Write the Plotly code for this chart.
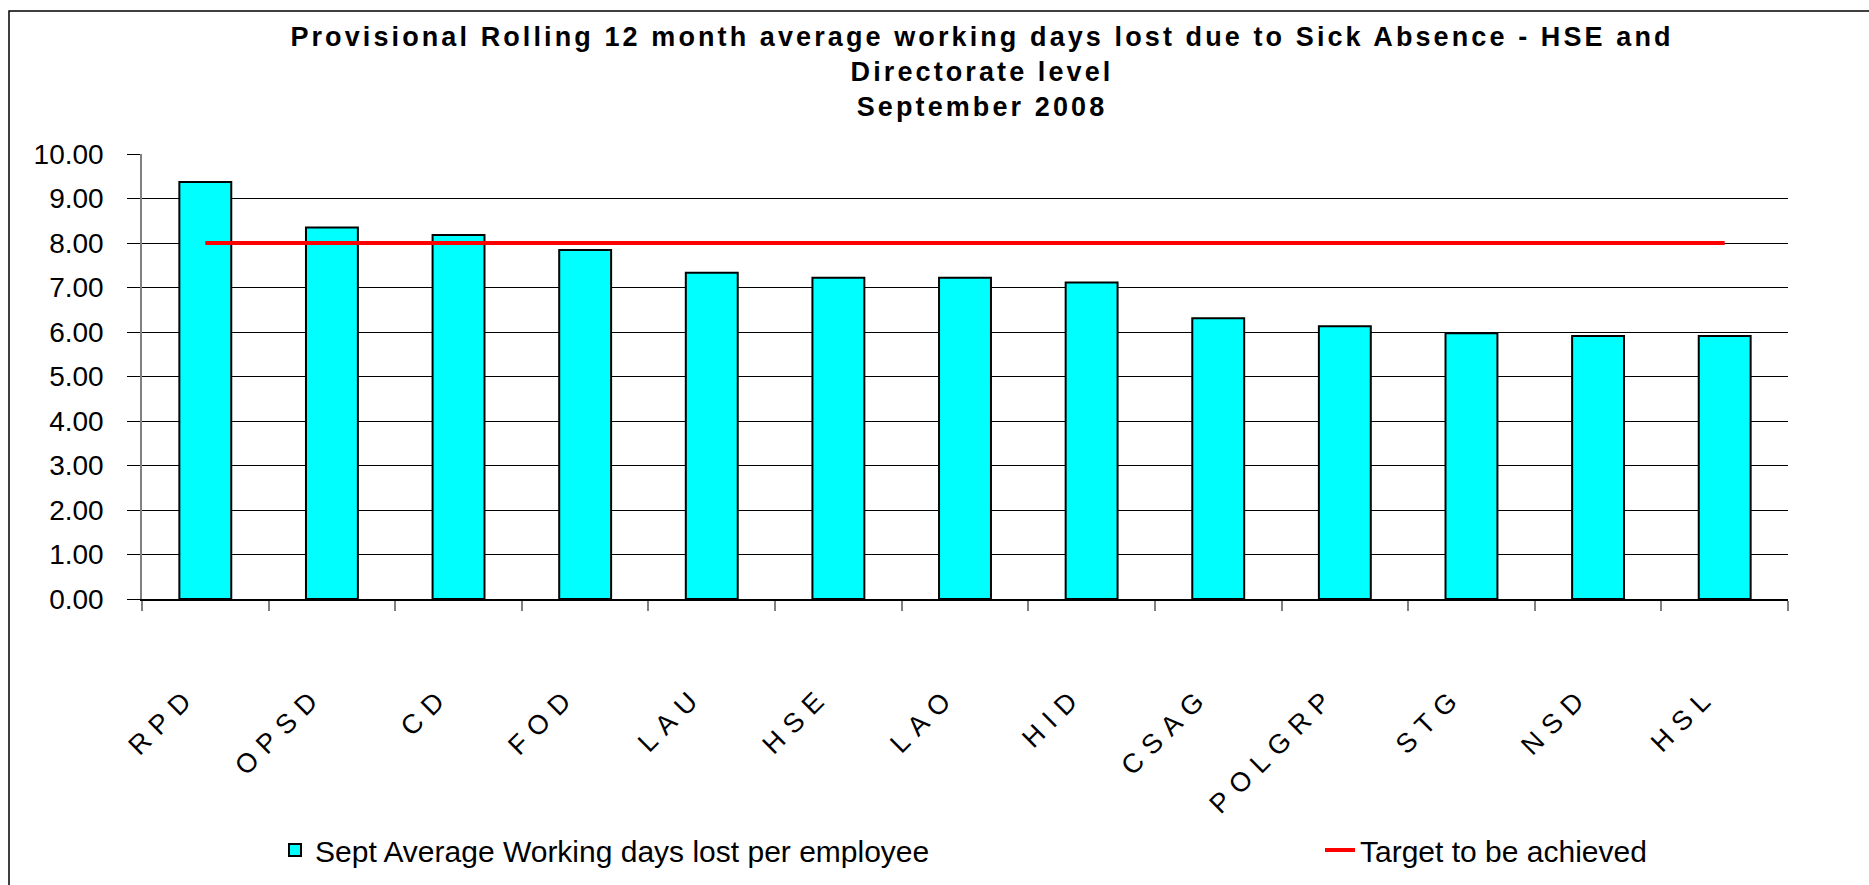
import plotly.graph_objects as go

# ---- data ----
categories = ["RPD", "OPSD", "CD", "FOD", "LAU", "HSE", "LAO", "HID",
              "CSAG", "POLGRP", "STG", "NSD", "HSL"]
sept_avg_days_lost = [9.37, 8.35, 8.18, 7.84, 7.33, 7.22, 7.22, 7.11,
                      6.31, 6.13, 5.97, 5.91, 5.91]
target_days = [8.00, 8.00, 8.00, 8.00, 8.00, 8.00, 8.00, 8.00,
               8.00, 8.00, 8.00, 8.00, 8.00]
y_tick_values = [0, 1, 2, 3, 4, 5, 6, 7, 8, 9, 10]
y_tick_labels = ["0.00", "1.00", "2.00", "3.00", "4.00", "5.00",
                 "6.00", "7.00", "8.00", "9.00", "10.00"]

bar_name = "Sept Average Working days lost per employee"
line_name = "Target to be achieved"
title_text = ("Provisional Rolling 12 month average working days lost due to Sick Absence - HSE and"
              "<br>Directorate level<br>September 2008")

W, H = 1869, 885
ML, MR, MT, MB = 142, 81, 154, 286
PW, PH = W - ML - MR, H - MT - MB

FONT = "Liberation Sans, Arial, sans-serif"

fig = go.Figure()
fig.add_trace(go.Bar(
    x=categories, y=sept_avg_days_lost, name=bar_name, legend="legend",
    marker=dict(color="#00FFFF", line=dict(color="#000000", width=2)),
))
fig.add_trace(go.Scatter(
    x=categories, y=target_days, name=line_name, mode="lines", legend="legend2",
    line=dict(color="#FF0000", width=4),
))


def px_to_paper_x(px):
    return (px - ML) / PW


def px_to_paper_y(py):
    return (H - MB - py) / PH


# chart frame (top and left edges visible)
fig.add_shape(type="rect", xref="paper", yref="paper",
              x0=px_to_paper_x(9), x1=px_to_paper_x(1880),
              y0=px_to_paper_y(895), y1=px_to_paper_y(11),
              line=dict(color="#000000", width=1.5), fillcolor="rgba(0,0,0,0)",
              layer="below")

legend_common = dict(orientation="h", xanchor="left",
                     y=1 - 850 / H, yref="container", yanchor="middle",
                     font=dict(family=FONT, size=30, color="#000000"),
                     bgcolor="rgba(0,0,0,0)")

fig.update_layout(
    width=W, height=H,
    margin=dict(l=ML, r=MR, t=MT, b=MB, pad=0, autoexpand=False),
    paper_bgcolor="white", plot_bgcolor="white",
    bargap=0.59,
    showlegend=True,
    title=dict(text=title_text, x=982 / W, xref="container", xanchor="center",
               y=1 - 46 / H, yref="container", yanchor="middle",
               font=dict(family=FONT, size=27, color="#000000", weight="bold")),
    legend=dict(x=px_to_paper_x(275), **legend_common),
    legend2=dict(x=px_to_paper_x(1320), **legend_common),
    xaxis=dict(
        type="category", showgrid=False, showline=True, linecolor="#000000", linewidth=1.5,
        ticks="outside", tickson="boundaries", ticklen=10, tickcolor="#808080", tickwidth=1.5,
        tickangle=-45, tickfont=dict(family=FONT, size=27, color="#000000"),
        ticklabelstandoff=68, ticklabelshift=-16, automargin=False,
    ),
    yaxis=dict(
        range=[0, 10], tickvals=y_tick_values, ticktext=y_tick_labels,
        showgrid=True, gridcolor="#000000", gridwidth=1,
        showline=True, linecolor="#808080", linewidth=1.5,
        ticks="outside", ticklen=13, tickcolor="#000000", tickwidth=1,
        tickfont=dict(family=FONT, size=28, color="#000000"),
        ticklabelstandoff=18, zeroline=False, automargin=False,
    ),
)

post = """
document.body.style.margin = '0';
var gd = document.getElementById('{plot_id}');
function ls(){
  var setLS = function(sel, v){
    gd.querySelectorAll(sel).forEach(function(t){ t.style.letterSpacing = v; });
  };
  setLS('text.gtitle', '3.1px');
  setLS('.xtick text', '9px');
}
ls();
gd.on('plotly_afterplot', ls);
"""

fig.write_html("out.html", post_script=post, config={"displayModeBar": False})
